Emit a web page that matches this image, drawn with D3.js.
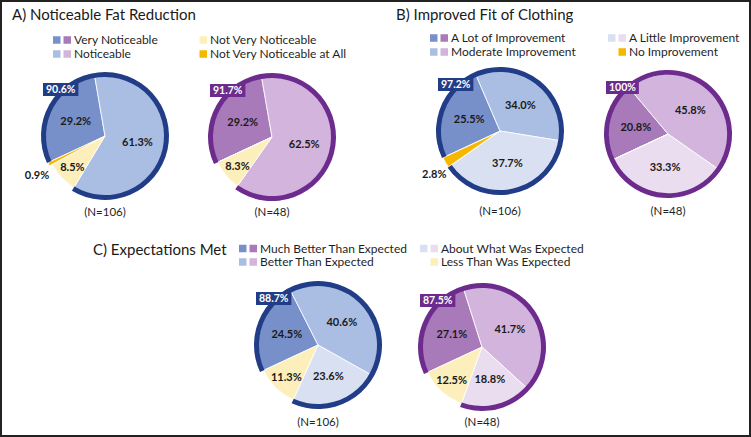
<!DOCTYPE html>
<html>
<head>
<meta charset="utf-8">
<script src="https://cdn.jsdelivr.net/npm/d3@7"></script>
<style>
  html, body { margin: 0; padding: 0; background: #ffffff; }
  svg { display: block; }
  text { font-family: Lato, "Open Sans", sans-serif; }
</style>
</head>
<body>
<svg id="chart" width="751" height="437"></svg>
<script>
// ---------------- DATA ----------------
const titles = ["A) Noticeable Fat Reduction", "B) Improved Fit of Clothing", "C) Expectations Met"];
const nLabels = ["(N=106)", "(N=48)"];

const catsA = ["Very Noticeable", "Noticeable", "Not Very Noticeable", "Not Very Noticeable at All"];
const valsA1 = [29.2, 61.3, 8.5, 0.9];
const valsA2 = [29.2, 62.5, 8.3, 0];
const totalsA = ["90.6%", "91.7%"];

const catsB = ["A Lot of Improvement", "Moderate Improvement", "A Little Improvement", "No Improvement"];
const valsB1 = [25.5, 34.0, 37.7, 2.8];
const valsB2 = [20.8, 45.8, 33.3, 0];
const totalsB = ["97.2%", "100%"];

const catsC = ["Much Better Than Expected", "Better Than Expected", "About What Was Expected", "Less Than Was Expected"];
const valsC1 = [24.5, 40.6, 23.6, 11.3];
const valsC2 = [27.1, 41.7, 18.8, 12.5];
const totalsC = ["88.7%", "87.5%"];

// colour roles of each category (per panel) and number of "positive" categories
const rolesA = ["dark", "light", "yellow", "orange"];
const rolesB = ["dark", "light", "lighter", "orange"];
const rolesC = ["dark", "light", "lighter", "yellow"];
const positiveCount = [2, 3, 3];

// ---------------- STYLE / LAYOUT ----------------
const palettes = {
  blue:   { dark: "#7890c9", light: "#aabee4", lighter: "#d9e0f2", yellow: "#fcefbc", orange: "#f5b700", ring: "#223d87" },
  purple: { dark: "#a87ab9", light: "#d2b4dd", lighter: "#e9ddef", yellow: "#fcefbc", orange: "#f5b700", ring: "#6d2b8e" }
};
const R = 64, ringW = 5;
const startDeg = -115;

const panels = [
  { title: titles[0], tx: 12, ty: 20, cats: catsA, roles: rolesA, vals: [valsA1, valsA2], totals: totalsA,
    centers: [[105, 136], [272, 137]], nY: 216,
    legend: { x1: 53, x2: 189, y1: 40, y2: 54 } },
  { title: titles[1], tx: 396, ty: 20, cats: catsB, roles: rolesB, vals: [valsB1, valsB2], totals: totalsB,
    centers: [[500, 131], [668, 134]], nY: 215,
    legend: { x1: 430, x2: 608, y1: 38, y2: 52 } },
  { title: titles[2], tx: 93, ty: 255, cats: catsC, roles: rolesC, vals: [valsC1, valsC2], totals: totalsC,
    centers: [[318, 345], [482, 347]], nY: 426,
    legend: { x1: 239, x2: 420, y1: 248.5, y2: 262 } }
];

const svg = d3.select("#chart");
svg.append("rect").attr("x", 0).attr("y", 0).attr("width", 751).attr("height", 437).attr("fill", "#fff");

const rad = d => d * Math.PI / 180;
const pie = d3.pie().sort(null).value(d => d)
  .startAngle(rad(startDeg)).endAngle(rad(startDeg + 360));
const sliceArc = d3.arc().innerRadius(0).outerRadius(R - ringW + 1);
const ringArc = d3.arc().innerRadius(R - ringW).outerRadius(R);

panels.forEach((p, pi) => {
  // title
  svg.append("text").attr("x", p.tx).attr("y", p.ty)
    .attr("font-size", 15).attr("fill", "#1a1a1a").text(p.title);

  // legend
  const sw = 7.5, pitch = 10.5;
  const lg = svg.append("g").attr("font-size", 12).attr("fill", "#1f1f1f");
  p.cats.forEach((c, ci) => {
    const col = ci < 2 ? 0 : 1;
    const row = ci % 2;
    const x0 = col === 0 ? p.legend.x1 : p.legend.x2;
    const y0 = row === 0 ? p.legend.y1 : p.legend.y2;
    const role = p.roles[ci];
    const shared = (role === "yellow" || role === "orange");
    const cols = shared ? [null, palettes.blue[role]] : [palettes.blue[role], palettes.purple[role]];
    cols.forEach((f, k) => {
      if (!f) return;
      lg.append("rect").attr("x", x0 + k * pitch).attr("y", y0 - sw / 2)
        .attr("width", sw).attr("height", sw).attr("fill", f);
    });
    lg.append("text").attr("x", x0 + 2 * pitch).attr("y", y0).attr("dy", "0.36em")
      .attr("fill", "#1f1f1f").text(c);
  });

  // pies
  p.vals.forEach((vals, k) => {
    const pal = k === 0 ? palettes.blue : palettes.purple;
    const color = d3.scaleOrdinal().domain(p.roles).range(p.roles.map(r => pal[r]));
    const [cx, cy] = p.centers[k];
    const g = svg.append("g").attr("transform", `translate(${cx},${cy})`);
    const arcs = pie(vals);

    g.selectAll("path.slice").data(arcs).join("path")
      .attr("class", "slice")
      .attr("d", sliceArc)
      .attr("transform", d => {
        if (d.data >= 5 || d.data === 0) return null;
        const m = (d.startAngle + d.endAngle) / 2;
        return `translate(${3 * Math.sin(m)},${-3 * Math.cos(m)})`;
      })
      .attr("fill", (d, i) => color(p.roles[i]))
      .attr("stroke", "#fff").attr("stroke-width", 0.8);

    // ring over positive categories
    const last = arcs[positiveCount[pi] - 1];
    g.append("path")
      .attr("d", ringArc({ startAngle: arcs[0].startAngle, endAngle: last.endAngle }))
      .attr("fill", pal.ring);

    // slice labels
    g.selectAll("text.lab").data(arcs.filter(d => d.data > 0)).join("text")
      .attr("class", "lab")
      .attr("transform", d => {
        const m = (d.startAngle + d.endAngle) / 2;
        const r = d.data >= 15 ? 33 : (d.data >= 5 ? 45 : 76);
        return `translate(${r * Math.sin(m)},${-r * Math.cos(m) + (d.data < 5 ? 5 : 0)})`;
      })
      .attr("text-anchor", "middle").attr("dy", "0.36em")
      .attr("font-size", 11).attr("font-weight", "bold").attr("fill", "#1a1a1a")
      .text(d => d.data.toFixed(1) + "%");

    // total box
    const bx = -62, by = -53;
    const box = g.append("rect").attr("x", bx).attr("y", by).attr("height", 13).attr("fill", pal.ring);
    const bt = g.append("text").attr("x", bx + 3).attr("y", by + 6.5).attr("dy", "0.36em")
      .attr("font-size", 10.5).attr("font-weight", "bold").attr("fill", "#fff").text(p.totals[k]);
    box.attr("width", bt.node().getComputedTextLength() + 6);

    // N label
    svg.append("text").attr("x", cx).attr("y", p.nY).attr("text-anchor", "middle")
      .attr("font-size", 11.5).attr("fill", "#1f1f1f").text(nLabels[k]);
  });
});

// outer frame
svg.append("rect").attr("x", 1).attr("y", 1).attr("width", 749).attr("height", 435)
  .attr("fill", "none").attr("stroke", "#222").attr("stroke-width", 2);
</script>
</body>
</html>
